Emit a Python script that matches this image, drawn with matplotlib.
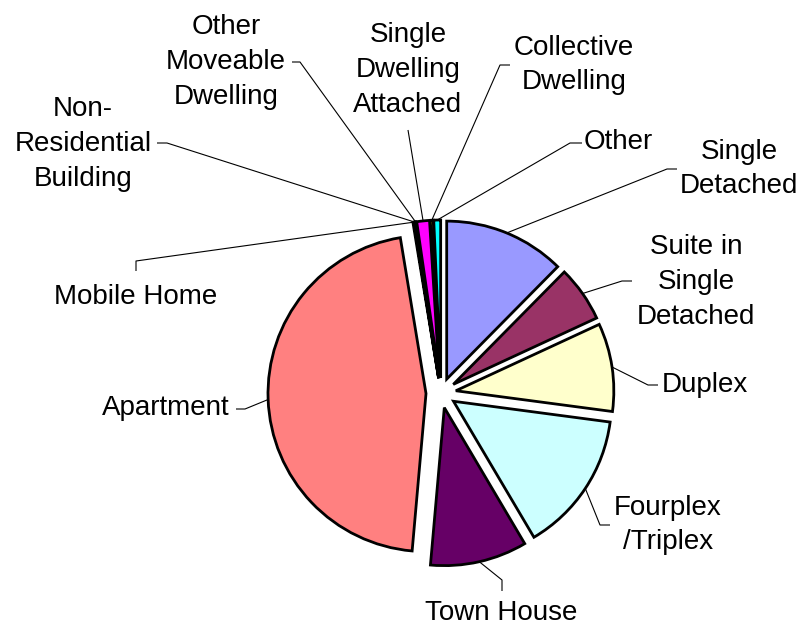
import numpy as np
import matplotlib
matplotlib.use("Agg")
import matplotlib.pyplot as plt

# ---- data ----
categories = ["Single\nDetached", "Suite in\nSingle\nDetached", "Duplex", "Fourplex\n/Triplex",
              "Town House", "Apartment", "Mobile Home", "Non-\nResidential\nBuilding",
              "Other\nMoveable\nDwelling", "Single\nDwelling\nAttached", "Collective\nDwelling", "Other"]
shares = [12.4, 5.7, 9.0, 14.4, 9.9, 46.0, 0.1, 0.1, 0.1, 1.3, 0.3, 0.7]
colors = ["#9999FF", "#993366", "#FFFFCC", "#CCFFFF", "#660066", "#FF8080",
          "#0066CC", "#CCCCFF", "#000080", "#FF00FF", "#FFFF00", "#00FFFF"]

W, H = 803, 629
fig = plt.figure(figsize=(W / 100, H / 100), dpi=100)
ax = fig.add_axes([0, 0, 1, 1])

cx, cy_px, R = 441, 393, 158
wedges, _ = ax.pie(shares, colors=colors, startangle=90, counterclock=False,
                   center=(cx, H - cy_px), radius=R, explode=[15] * len(shares),
                   wedgeprops=dict(edgecolor="black", linewidth=2.0), frame=True)
ax.set_xlim(0, W)
ax.set_ylim(0, H)
ax.set_aspect("equal")
ax.axis("off")

# label layout (pixel coordinates, y downward): text centre, attach point, elbow point
layout = [
    ((739, 169), (677, 169), (667, 169)),
    ((696, 282), (632, 281), (622, 281)),
    ((705, 385), (658, 385), (648, 385)),
    ((668, 525), (610, 525), (600, 525)),
    ((501, 613), (502, 591), (502, 580)),
    ((166, 408), (236, 409), (245, 409)),
    ((136, 297), (136, 271), (136, 261)),
    ((83, 144), (157, 143), (167, 143)),
    ((226, 62), (292, 62), (300, 62)),
    ((408, 70), (408, 130), (408, 130)),
    ((574, 65), (510, 65), (500, 65)),
    ((618, 142), (582, 143), (570, 143)),
]

font = dict(family=["Liberation Sans", "DejaVu Sans"], size=20)
for w, lab, (tc, at, el) in zip(wedges, categories, layout):
    mid = np.deg2rad((w.theta1 + w.theta2) / 2)
    ax_, ay_ = w.center[0] + w.r * np.cos(mid), w.center[1] + w.r * np.sin(mid)
    ax.plot([ax_, el[0], at[0]], [ay_, H - el[1], H - at[1]], color="black", lw=0.8,
            solid_capstyle="butt")
    ax.text(tc[0], H - tc[1], lab, ha="center", va="center", multialignment="center",
            linespacing=1.44, **font)

fig.savefig("out.png", dpi=100)
